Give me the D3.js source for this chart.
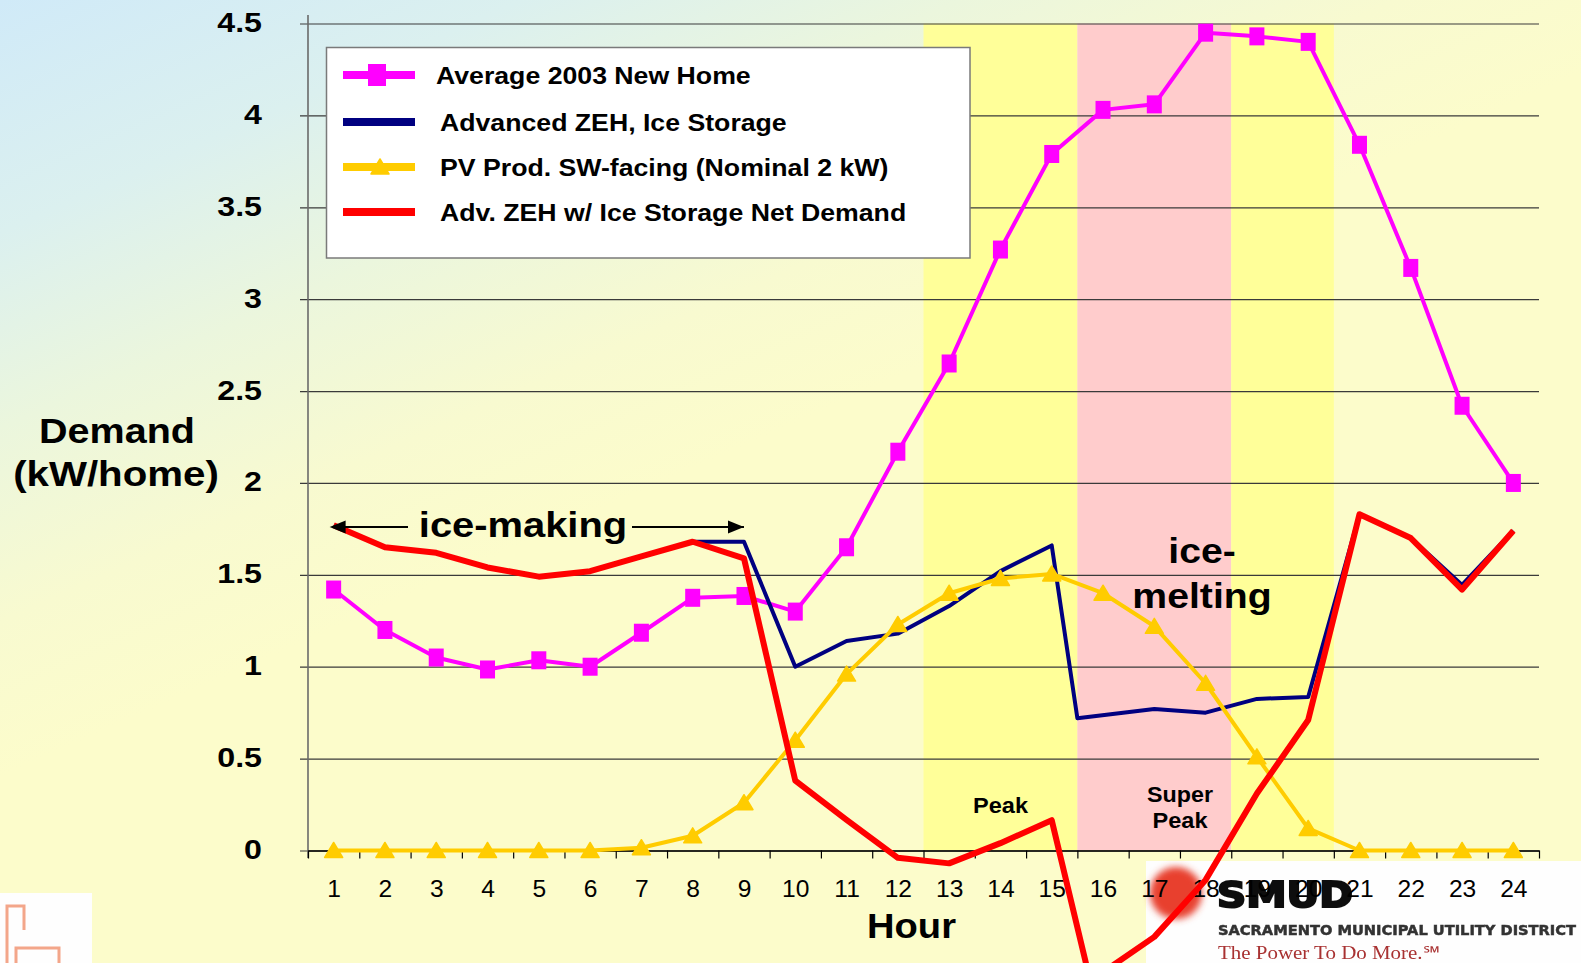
<!DOCTYPE html>
<html><head><meta charset="utf-8">
<script src="https://cdn.jsdelivr.net/npm/d3@7"></script>
<style>html,body{margin:0;padding:0;overflow:hidden;background:#fcfccc}</style>
</head><body><svg id="c" width="1581" height="963"></svg>
<script>
// ---------------- data ----------------
const hours = [1,2,3,4,5,6,7,8,9,10,11,12,13,14,15,16,17,18,19,20,21,22,23,24];
const avgNewHome = [1.42,1.20,1.05,0.985,1.035,1.00,1.185,1.375,1.385,1.30,1.65,2.17,2.65,3.27,3.79,4.03,4.06,4.45,4.43,4.40,3.84,3.17,2.42,2.00];
const pvProd = [0,0,0,0,0,0,0.015,0.08,0.26,0.60,0.96,1.23,1.40,1.48,1.505,1.40,1.22,0.91,0.51,0.12,0,0,0,0];
const zehHours = [1,2,3,4,5,6,7,8,9,10,11,12,13,14,15,15.5,17,18,19,20,21,22,23,24];
const zehIce = [1.77,1.65,1.62,1.54,1.49,1.52,1.60,1.68,1.68,1.00,1.14,1.18,1.33,1.52,1.66,0.72,0.77,0.75,0.825,0.835,1.83,1.70,1.445,1.74];
const netHours = [1,2,3,4,5,6,7,8,9,10,11,12,13,14,15,15.75,17,18,19,20,21,22,23,24];
const netDemand = [1.77,1.65,1.62,1.54,1.49,1.52,1.60,1.68,1.59,0.38,0.167,-0.04,-0.07,0.04,0.165,-0.71,-0.47,-0.16,0.31,0.71,1.83,1.70,1.42,1.74];
const yTicks = [0,0.5,1,1.5,2,2.5,3,3.5,4,4.5];
const yTickLabels = ["0","0.5","1","1.5","2","2.5","3","3.5","4","4.5"];
const bandStart = [12.5,15.5,18.5];
const bandEnd = [15.5,18.5,20.5];
const seriesNames = ["Average 2003 New Home","Advanced ZEH, Ice Storage","PV Prod. SW-facing (Nominal 2 kW)","Adv. ZEH w/ Ice Storage Net Demand"];

// ---------------- styles ----------------
const bandColors = ["#ffff99","#ffcccc","#ffff99"];
const C = {mag:"#ff00ff", navy:"#000080", pv:"#ffcc00", red:"#ff0000"};
const FONT = "'Liberation Sans', Arial, sans-serif";

const W=1581, H=963;
const L=308, R=1539, T=23.5, B=850.5;
const svg = d3.select('#c');
const defs = svg.append('defs');

// background gradient
const g0 = defs.append('linearGradient').attr('id','bg').attr('gradientUnits','userSpaceOnUse')
  .attr('x1',0).attr('y1',0).attr('x2',289).attr('y2',649);
[[0,'#d0eaf8'],[0.3,'#dbf0ef'],[0.55,'#ebf6dd'],[0.8,'#f8fad0'],[1,'#fcfccb']].forEach(s=>
  g0.append('stop').attr('offset',s[0]).attr('stop-color',s[1]));
svg.append('rect').attr('width',W).attr('height',H).attr('fill','url(#bg)');

const blur1 = defs.append('filter').attr('id','blur1').attr('x','-50%').attr('y','-50%').attr('width','200%').attr('height','200%');
blur1.append('feGaussianBlur').attr('stdDeviation',3.5);
const blur2 = defs.append('filter').attr('id','blur2');
blur2.append('feGaussianBlur').attr('stdDeviation',0.7);

function txt(g,x,y,str,size,weight,anchor,sx,fill,family){
  return g.append('text').attr('transform',`translate(${x},${y}) scale(${sx},1)`)
    .attr('text-anchor',anchor).style('font-family',family||FONT).style('font-size',size+'px')
    .style('font-weight',weight).attr('fill',fill||'#000').text(str);
}

// ---------------- logos (behind chart) ----------------
const logo = svg.append('g');
logo.append('rect').attr('x',1146).attr('y',861).attr('width',W-1146).attr('height',H-861).attr('fill','#fefefe');
logo.append('circle').attr('cx',1176).attr('cy',893).attr('r',26).attr('fill','#e8402f').attr('filter','url(#blur1)');
txt(logo,1217,907,'SMUD',36,'bold','start',1,'#111',"'DejaVu Sans', sans-serif")
  .attr('textLength',136).attr('lengthAdjust','spacingAndGlyphs').attr('stroke','#111').attr('stroke-width',2.2).attr('filter','url(#blur2)');
txt(logo,1218,935,'SACRAMENTO MUNICIPAL UTILITY DISTRICT',14,'bold','start',1,'#333',"'DejaVu Sans', sans-serif")
  .attr('textLength',358).attr('lengthAdjust','spacingAndGlyphs').attr('stroke','#333').attr('stroke-width',0.5).attr('filter','url(#blur2)');
txt(logo,1218,959,'The Power To Do More.\u2120',18,'normal','start',1,'#a83030',"'Liberation Serif', serif")
  .attr('textLength',222).attr('lengthAdjust','spacingAndGlyphs').attr('filter','url(#blur2)');
logo.append('rect').attr('x',0).attr('y',893).attr('width',92).attr('height',H-893).attr('fill','#fefefe');
logo.append('path').attr('d','M7,963 V906 H24 V930 M16,963 V948 H59 V963').attr('fill','none')
  .attr('stroke','#f3a68a').attr('stroke-width',3).attr('filter','url(#blur2)');

// ---------------- scales ----------------
const x = d3.scaleLinear().domain([0.5,24.5]).range([L,R]);
const y = d3.scaleLinear().domain([0,4.5]).range([B,T]);

// bands
svg.append('g').selectAll('rect').data(bandStart).join('rect')
  .attr('x',d=>x(d)).attr('y',y(4.5)).attr('width',(d,i)=>x(bandEnd[i])-x(d)).attr('height',y(0)-y(4.5))
  .attr('fill',(d,i)=>bandColors[i]);

// y axis with gridlines
const yAx = svg.append('g').attr('transform',`translate(${L},0)`)
  .call(d3.axisLeft(y).tickValues(yTicks).tickFormat((d,i)=>yTickLabels[i]).tickSizeOuter(0));
yAx.select('.domain').remove();
yAx.selectAll('.tick line').attr('x1',-8).attr('x2',R-L).attr('stroke','#3a3a3a').attr('stroke-width',1.2);
yAx.selectAll('.tick text').attr('x',null).attr('dy',null)
  .attr('transform','translate(-46,8) scale(1.15,1)').attr('text-anchor','end')
  .style('font-family',FONT).style('font-size','28px').style('font-weight','bold').attr('fill','#000');
svg.append('line').attr('x1',L).attr('x2',L).attr('y1',15).attr('y2',858).attr('stroke','#6a6a6a').attr('stroke-width',1.6);

// x axis ticks (between categories)
const xBounds = hours.map(h=>h-0.5).concat([hours[hours.length-1]+0.5]);
const xAx = svg.append('g').attr('transform',`translate(0,${B})`)
  .call(d3.axisBottom(x).tickValues(xBounds).tickFormat('').tickSize(8).tickSizeOuter(0));
xAx.select('.domain').attr('stroke','#000').attr('stroke-width',1.3);
xAx.selectAll('.tick line').attr('stroke','#000').attr('stroke-width',1.2);
const xLab = svg.append('g').attr('transform',`translate(0,${B})`)
  .call(d3.axisBottom(x).tickValues(hours).tickSize(0));
xLab.select('.domain').remove();
xLab.selectAll('.tick text').attr('y',null).attr('dy',null)
  .attr('transform','translate(0,46) scale(1.07,1)')
  .style('font-family',FONT).style('font-size','23px').style('font-weight','normal').attr('fill','#000');

// axis titles
txt(svg,911.5,938,'Hour',35,'bold','middle',1.09);
txt(svg,117,443,'Demand',35,'bold','middle',1.13);
txt(svg,116,486,'(kW/home)',35,'bold','middle',1.15);

// ---------------- series ----------------
const line = d3.line();
// magenta
svg.append('path').attr('d',line(hours.map((h,i)=>[x(h),y(avgNewHome[i])])))
  .attr('fill','none').attr('stroke',C.mag).attr('stroke-width',4).attr('stroke-linejoin','round');
svg.append('g').selectAll('rect').data(hours).join('rect')
  .attr('x',d=>x(d)-7.5).attr('y',(d,i)=>y(avgNewHome[i])-9).attr('width',15).attr('height',18).attr('fill',C.mag);
// navy
svg.append('path').attr('d',line(zehHours.map((h,i)=>[x(h),y(zehIce[i])])))
  .attr('fill','none').attr('stroke',C.navy).attr('stroke-width',4).attr('stroke-linejoin','round');
// PV
svg.append('path').attr('d',line(hours.map((h,i)=>[x(h),y(pvProd[i])])))
  .attr('fill','none').attr('stroke',C.pv).attr('stroke-width',4).attr('stroke-linejoin','round');
const tri = 'M0,-8 L9,7 L-9,7 Z';
svg.append('g').selectAll('path').data(hours).join('path')
  .attr('d',tri).attr('transform',(d,i)=>`translate(${x(d)},${y(pvProd[i])})`).attr('fill',C.pv)
  .attr('stroke',C.pv).attr('stroke-width',1.5).attr('stroke-linejoin','round');
// red net demand
svg.append('path').attr('d',line(netHours.map((h,i)=>[x(h),y(netDemand[i])])))
  .attr('fill','none').attr('stroke',C.red).attr('stroke-width',6).attr('stroke-linejoin','round');

// ---------------- annotations ----------------
txt(svg,523,537,'ice-making',35,'bold','middle',1.14);
const ay = y(1.76);
const arr = svg.append('g');
arr.append('line').attr('x1',408).attr('x2',x(1)).attr('y1',ay).attr('y2',ay).attr('stroke','#000').attr('stroke-width',2);
arr.append('line').attr('x1',632).attr('x2',x(9)).attr('y1',ay).attr('y2',ay).attr('stroke','#000').attr('stroke-width',2);
arr.append('path').attr('d',`M${x(1)-4},${ay} l16,-6.5 v13 Z`).attr('fill','#000');
arr.append('path').attr('d',`M${x(9)},${ay} l-16,-6.5 v13 Z`).attr('fill','#000');
txt(svg,1202,563,'ice-',35,'bold','middle',1.12);
txt(svg,1202,608,'melting',35,'bold','middle',1.12);
txt(svg,1000.5,813,'Peak',22,'bold','middle',1.07);
txt(svg,1180,802,'Super',22,'bold','middle',1.06);
txt(svg,1180,828,'Peak',22,'bold','middle',1.07);

// ---------------- legend ----------------
const lg = svg.append('g');
lg.append('rect').attr('x',326.5).attr('y',47.5).attr('width',970-326.5).attr('height',258-47.5)
  .attr('fill','#fff').attr('stroke','#7a7a7a').attr('stroke-width',1.5);
const legY = [75,122,167,212];
const legCol = [C.mag,C.navy,C.pv,C.red];
const legTx = [436,440,440,440];
seriesNames.forEach((n,i)=>{
  lg.append('line').attr('x1',343).attr('x2',415).attr('y1',legY[i]).attr('y2',legY[i]).attr('stroke',legCol[i]).attr('stroke-width',8);
  txt(lg,legTx[i],legY[i]+8.5,n,23,'bold','start',1.16);
});
lg.append('rect').attr('x',368).attr('y',legY[0]-11).attr('width',18).attr('height',22).attr('fill',C.mag);
lg.append('path').attr('d','M0,-8 L9,7 L-9,7 Z').attr('transform',`translate(380,${legY[2]})`).attr('fill',C.pv)
  .attr('stroke',C.pv).attr('stroke-width',1.5).attr('stroke-linejoin','round');
</script></body></html>
